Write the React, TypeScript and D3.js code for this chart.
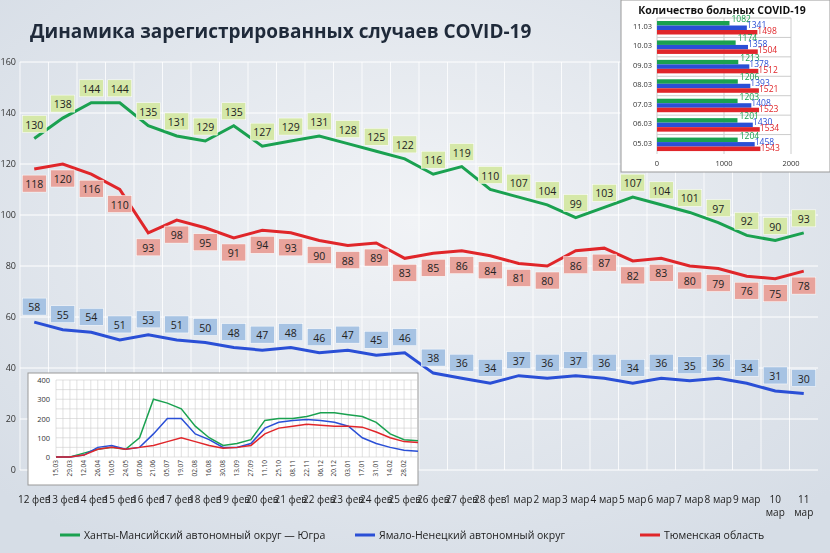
import React from "react";
import * as d3 from "d3";

const days = ["12 фев","13 фев","14 фев","15 фев","16 фев","17 фев","18 фев","19 фев","20 фев","21 фев","22 фев","23 фев","24 фев","25 фев","26 фев","27 фев","28 фев","1 мар","2 мар","3 мар","4 мар","5 мар","6 мар","7 мар","8 мар","9 мар","10 мар","11 мар"];
const khmao = [130,138,144,144,135,131,129,135,127,129,131,128,125,122,116,119,110,107,104,99,103,107,104,101,97,92,90,93];
const tyumen = [118,120,116,110,93,98,95,91,94,93,90,88,89,83,85,86,84,81,80,86,87,82,83,80,79,76,75,78];
const yanao = [58,55,54,51,53,51,50,48,47,48,46,47,45,46,38,36,34,37,36,37,36,34,36,35,36,34,31,30];
const yTicks = [0,20,40,60,80,100,120,140,160];

const insetTicks = ["15.03","29.03","12.04","26.04","10.05","24.05","07.06","21.06","05.07","19.07","02.08","16.08","30.08","13.09","27.09","11.10","25.10","08.11","22.11","06.12","20.12","03.01","17.01","31.01","14.02","28.02","11.03"];
const insetGreen = [0,0,20,40,50,40,100,300,280,250,160,100,60,70,90,190,200,200,210,230,230,220,210,180,120,90,85];
const insetBlue = [0,0,10,50,60,40,50,120,200,200,120,90,50,50,70,150,180,190,195,190,180,160,100,70,50,35,30];
const insetRed = [0,0,10,40,50,40,50,60,80,100,80,60,45,50,60,120,150,160,170,165,160,160,155,130,100,80,75];

const barDates = ["11.03","10.03","09.03","08.03","07.03","06.03","05.03"];
const barGreen = [1082,1174,1213,1206,1203,1201,1204];
const barBlue = [1341,1358,1378,1393,1408,1430,1458];
const barRed = [1498,1504,1512,1521,1523,1534,1543];

const G = "#1aa150", B = "#2a4fd6", R = "#e0262a";
const font = "'Open Sans', 'DejaVu Sans', sans-serif";

export default function App() {
  const W = 830, H = 553;
  const x = d3.scaleBand<string>().domain(days).range([20, 818]);
  const y = d3.scaleLinear().domain([0, 160]).range([470, 62]);
  const cx = (i: number) => x(days[i])! + x.bandwidth() / 2;
  const line = (arr: number[]) => d3.line<number>().x((_, i) => cx(i)).y(d => y(d))(arr)!;

  const ix = d3.scalePoint<string>().domain(insetTicks).range([56, 418]);
  const iy = d3.scaleLinear().domain([0, 400]).range([457, 380]);
  const iline = (arr: number[]) => d3.line<number>().x((_, i) => ix(insetTicks[i])!).y(d => iy(d))(arr)!;

  const bx = d3.scaleLinear().domain([0, 2000]).range([657, 791]);
  const by = d3.scaleBand<string>().domain(barDates).range([18, 154]);

  const labels = (arr: number[], fill: string, dy: number) => arr.map((v, i) => (
    <g key={i} transform={`translate(${cx(i)},${y(v) + dy})`}>
      <rect x={-12} y={-9} width={24} height={17} fill={fill} stroke="#fff" strokeWidth={0.5} />
      <text textAnchor="middle" y={4} fontSize={10.5} fill="#222">{v}</text>
    </g>
  ));

  return (
    <svg width={W} height={H} style={{ display: "block", position: "fixed", left: 0, top: 0, fontFamily: font }}>
      <defs>
        <radialGradient id="bg" cx="50%" cy="40%" r="70%">
          <stop offset="0%" stopColor="#f1f3f6" />
          <stop offset="100%" stopColor="#d6dde6" />
        </radialGradient>
      </defs>
      <rect width={W} height={H} fill="url(#bg)" />
      {yTicks.map(t => (
        <g key={t}>
          <line x1={20} x2={818} y1={y(t)} y2={y(t)} stroke="#fff" strokeWidth={1} />
          <text x={16} y={y(t) + 3} textAnchor="end" fontSize={9} fill="#333">{t}</text>
        </g>
      ))}
      {days.map((d) => (
        <line key={d} x1={x(d)!} x2={x(d)!} y1={62} y2={470} stroke="#fff" strokeWidth={0.8} />
      ))}
      {days.map((d, i) => i < 26 ? (
        <text key={d} x={cx(i)} y={503} textAnchor="middle" fontSize={10} fill="#222">{d}</text>
      ) : (
        <text key={d} x={cx(i)} y={503} textAnchor="middle" fontSize={10} fill="#222">
          <tspan x={cx(i)}>{d.split(" ")[0]}</tspan><tspan x={cx(i)} dy={13}>{d.split(" ")[1]}</tspan>
        </text>
      ))}
      <text x={30} y={38} fontSize={19} fontWeight="bold" fill="#1f2a3a">Динамика зарегистрированных случаев COVID-19</text>

      <path d={line(khmao)} fill="none" stroke={G} strokeWidth={3} />
      <path d={line(tyumen)} fill="none" stroke={R} strokeWidth={3} />
      <path d={line(yanao)} fill="none" stroke={B} strokeWidth={3} />
      {labels(khmao, "#d5e8a8", -14)}
      {labels(tyumen, "#e8a39c", 15)}
      {labels(yanao, "#a7c3e3", -15)}

      {/* inset line chart */}
      <rect x={28} y={373} width={390} height={112} fill="#fff" stroke="#999" />
      {d3.range(0, 401, 50).map(t => (
        <line key={t} x1={56} x2={418} y1={iy(t)} y2={iy(t)} stroke="#ccc" strokeWidth={0.6} />
      ))}
      {d3.range(0, 53).map(k => {
        const xx = 56 + k * (362 / 52);
        return <line key={k} x1={xx} x2={xx} y1={380} y2={457} stroke="#ccc" strokeWidth={0.6} />;
      })}
      {[0, 100, 200, 300, 400].map(t => (
        <text key={t} x={50} y={iy(t) + 3} textAnchor="end" fontSize={7.5} fill="#333">{t}</text>
      ))}
      {insetTicks.slice(0, 26).map(t => (
        <text key={t} transform={`translate(${ix(t)! + 2},460) rotate(-90)`} textAnchor="end" fontSize={6.5} fill="#333">{t}</text>
      ))}
      <path d={iline(insetGreen)} fill="none" stroke={G} strokeWidth={1.5} />
      <path d={iline(insetBlue)} fill="none" stroke={B} strokeWidth={1.5} />
      <path d={iline(insetRed)} fill="none" stroke={R} strokeWidth={1.5} />

      {/* bar inset */}
      <rect x={621} y={0} width={209} height={172} fill="#fff" stroke="#999" />
      <text x={722} y={14} textAnchor="middle" fontSize={10.5} fontWeight="bold" fill="#111">Количество больных COVID-19</text>
      {[0, 1000, 2000].map(t => (
        <g key={t}>
          <line x1={bx(t)} x2={bx(t)} y1={18} y2={154} stroke="#ccc" />
          <text x={bx(t)} y={166} textAnchor="middle" fontSize={7.5} fill="#333">{t}</text>
        </g>
      ))}
      {by.domain().map(t => <line key={t} x1={657} x2={791} y1={by(t)!} y2={by(t)!} stroke="#ccc" />)}
      {barDates.map((d, i) => {
        const y0 = by(d)! + 3;
        const series: [number, string][] = [[barGreen[i], G], [barBlue[i], B], [barRed[i], R]];
        return (
          <g key={d}>
            <text x={652} y={y0 + 8} textAnchor="end" fontSize={7.5} fill="#333">{d}</text>
            {series.map(([v, c], k) => (
              <g key={k}>
                <rect x={bx(0)} y={y0 + k * 4.5} width={bx(v) - bx(0)} height={4.5} fill={c} />
                <text x={bx(v) + (k === 0 ? 2 : 0)} y={y0 + 1 + k * 6} fontSize={8.5} fill={c}>{v}</text>
              </g>
            ))}
          </g>
        );
      })}

      {/* legend */}
      {[[G, "Ханты-Мансийский автономный округ — Югра", 60], [B, "Ямало-Ненецкий автономный округ", 355], [R, "Тюменская область", 640]].map(([c, t, lx]) => (
        <g key={t as string}>
          <line x1={lx as number} x2={(lx as number) + 20} y1={535} y2={535} stroke={c as string} strokeWidth={3} />
          <text x={(lx as number) + 24} y={539} fontSize={10.5} fill="#222">{t}</text>
        </g>
      ))}
    </svg>
  );
}
